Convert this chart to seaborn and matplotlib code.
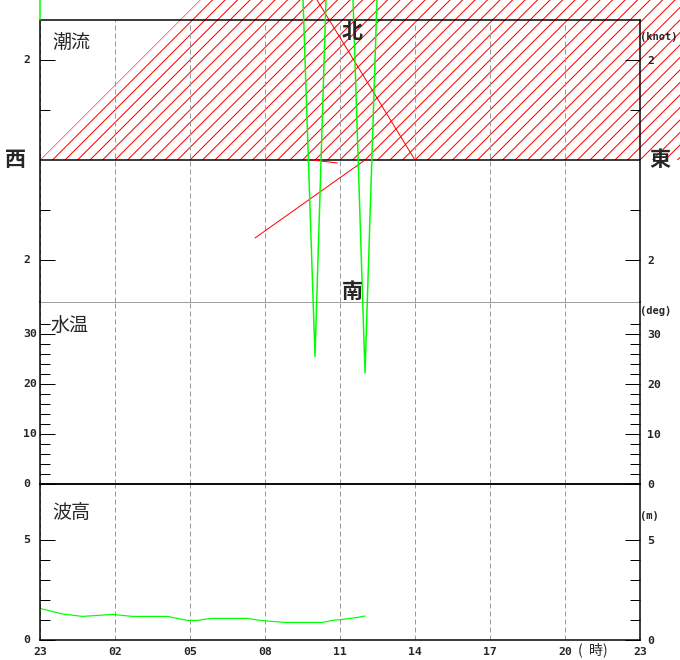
import numpy as np
import pandas as pd
import seaborn as sns
import matplotlib.pyplot as plt

# ---- values (x = hours after 23:00) ----
hour_ticks = [0, 3, 6, 9, 12, 15, 18, 21, 24]
hour_labels = ['23', '02', '05', '08', '11', '14', '17', '20', '23']

# 潮流 (knot), + = 北 side, - = 南 side
flow_fill_hours = [0, 6.4, 25.6, 25.6]
flow_fill_knots = [0, 3.2, 3.2, 0]
flow_line_hours = [11.08, 15.0, np.nan, 8.6, 13.0, np.nan, 10.9, 11.9]
flow_line_knots = [3.2, 0.0, np.nan, -1.56, 0.0, np.nan, 0.0, -0.06]

# 水温 (deg)
temp_hours = [0.0, 0.0, 10.52, 11.0, 11.44, 12.52, 13.0, 13.48]
temp_values = [92.8, 97.0, 97.0, 25.5, 97.0, 97.0, 22.2, 97.0]
temp_group = [0, 0, 1, 1, 1, 2, 2, 2]

# 波高 (m)
wave_hours = [0, 0.9, 1.7, 2.9, 3.7, 5.1, 5.9, 6.3, 6.8, 8.3, 8.8, 9.8, 11.3, 11.7, 12.1, 12.7, 13.0]
wave_values = [1.58, 1.3, 1.18, 1.28, 1.18, 1.18, 0.98, 0.98, 1.08, 1.08, 0.98, 0.88, 0.88, 0.98, 1.03, 1.13, 1.2]

W, H, DPI = 680, 660, 75
PT = 72 / DPI  # points per pixel

sns.set_style('white')
plt.rcParams['font.family'] = ['DejaVu Sans Mono']
plt.rcParams['font.weight'] = 'bold'
plt.rcParams['font.size'] = 11.5 * PT
plt.rcParams['hatch.color'] = 'red'
plt.rcParams['hatch.linewidth'] = 1.0 * PT
cjk = ['Noto Sans CJK JP', 'DejaVu Sans']
green = '#00ff00'

fig = plt.figure(figsize=(W / DPI, H / DPI), dpi=DPI, facecolor='white')


def panel(top, bottom):
    return fig.add_axes([40 / W, 1 - bottom / H, 600 / W, (bottom - top) / H])


ax_cur = panel(20, 302)
ax_tmp = panel(302, 484)
ax_wav = panel(484, 640)

# current
ax_cur.fill(flow_fill_hours, flow_fill_knots, facecolor='none', edgecolor='red',
            hatch='//', linewidth=0, clip_on=False, zorder=0.5)
ax_cur.axhline(0, color='black', lw=1.5 * PT)
ax_cur.plot(flow_line_hours, flow_line_knots, color='red', lw=1 * PT, clip_on=False)

# water temperature
df_t = pd.DataFrame({'hour': temp_hours, 'temp': temp_values, 'grp': temp_group})
sns.lineplot(data=df_t, x='hour', y='temp', units='grp', estimator=None, sort=False,
             color=green, lw=1.5 * PT, ax=ax_tmp)
for ln in ax_tmp.lines:
    ln.set_clip_on(False)

# wave height
df_w = pd.DataFrame({'hour': wave_hours, 'wave': wave_values})
sns.lineplot(data=df_w, x='hour', y='wave', color=green, lw=1.2 * PT, ax=ax_wav)

ticks = {
    ax_cur: ((-2.84, 2.8), [-2, 2], ['2', '2'], [-1, 1]),
    ax_tmp: ((0, 36.4), [0, 10, 20, 30], ['0', '10', '20', '30'], list(range(2, 34, 2))),
    ax_wav: ((0, 7.8), [0, 5], ['0', '5'], [1, 2, 3, 4]),
}
for ax, (lim, major, labels, minor) in ticks.items():
    ax.set_facecolor('none')
    ax.set_xlabel('')
    ax.set_ylabel('')
    ax.set_xlim(0, 24)
    ax.set_ylim(*lim)
    ax.set_xticks(hour_ticks)
    ax.set_yticks(major)
    ax.set_yticklabels(labels)
    ax.set_yticks(minor, minor=True)
    ax.tick_params(axis='y', which='both', direction='in', left=True, right=True,
                   labelleft=False, labelright=True, width=1 * PT, color='black', pad=7 * PT)
    ax.tick_params(axis='y', which='major', length=15 * PT)
    ax.tick_params(axis='y', which='minor', length=10 * PT)
    ax.tick_params(axis='x', length=0, labelbottom=False)
    ax.grid(axis='x', color='#999999', linestyle=(0, (5, 3)), linewidth=1 * PT)
    for sp in ax.spines.values():
        sp.set_color('black')
        sp.set_linewidth(1.5 * PT)
    for val, lab in zip(major, labels):
        ax.text(-17 / 600, val, lab, transform=ax.get_yaxis_transform(), ha='left', va='center')

ax_cur.spines['bottom'].set_color('#a0a0a0')
ax_cur.spines['bottom'].set_linewidth(1 * PT)
ax_tmp.spines['top'].set_visible(False)

ax_wav.set_xticklabels(hour_labels)
ax_wav.tick_params(axis='x', labelbottom=True, pad=7 * PT)


def ftext(x, y, s, **kw):
    fig.text(x / W, 1 - y / H, s, **kw)


# units
unit_size = 10.4 * PT
ftext(640, 37, '(knot)', size=unit_size, ha='left', va='center')
ftext(640, 311, '(deg)', size=unit_size, ha='left', va='center')
ftext(640, 516, '(m)', size=unit_size, ha='left', va='center')

# panel titles
ftext(52, 42, '潮流', family=cjk, weight='normal', size=19 * PT, ha='left', va='center')
ftext(50, 325, '水温', family=cjk, weight='normal', size=19 * PT, ha='left', va='center')
ftext(52, 512, '波高', family=cjk, weight='normal', size=19 * PT, ha='left', va='center')

# compass
ftext(16, 160, '西', family=cjk, weight='bold', size=21 * PT, ha='center', va='center')
ftext(660, 160, '東', family=cjk, weight='bold', size=21 * PT, ha='center', va='center')
ftext(352, 31, '北', family=cjk, weight='bold', size=21 * PT, ha='center', va='center')
ftext(352, 292, '南', family=cjk, weight='bold', size=21 * PT, ha='center', va='center')

ftext(593, 650, '(  時)', family=cjk, weight='normal', size=14 * PT, ha='center', va='center')

fig.savefig('out.png', dpi=DPI)
